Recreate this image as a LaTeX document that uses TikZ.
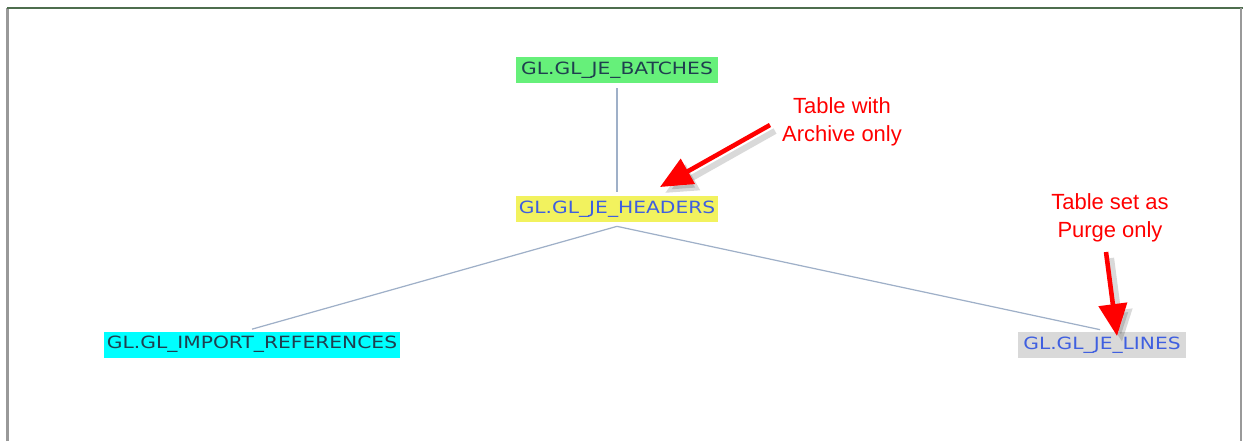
\documentclass[tikz,border=0pt]{standalone}
\usepackage{fontspec}
\setmainfont{DejaVu Sans}
\newfontfamily\tablefont[FakeStretch=1.2]{DejaVu Sans}
\newfontfamily\notefont{Liberation Sans}
\usetikzlibrary{arrows.meta}

\definecolor{batchgreen}{HTML}{66F07A}
\definecolor{headyellow}{HTML}{F2F25E}
\definecolor{refcyan}{HTML}{00FFFF}
\definecolor{linegray}{HTML}{D9D9D9}
\definecolor{tabdark}{HTML}{1F3F4F}
\definecolor{tabblue}{HTML}{3F5FE0}
\definecolor{linkblue}{HTML}{9FB0C8}
\definecolor{framegreen}{HTML}{4E6E4E}

\tikzset{
  tablebox/.style={inner sep=0pt, minimum height=0.52cm, font=\tablefont\fontsize{9.6}{11}\selectfont},
  link/.style={draw=linkblue, line width=0.7pt},
  note/.style={text=red, align=center, font=\notefont\fontsize{12.5}{16}\selectfont},
  notearrow/.style={red, line width=2.6pt, -{Triangle[length=0.64cm, width=0.56cm]},
    preaction={draw=black, opacity=0.15, line width=3.5pt, transform canvas={shift={(0.1cm,-0.12cm)}}}}
}

\begin{document}
\begin{tikzpicture}[x=0.02cm, y=-0.02cm]
  \useasboundingbox (0,0) rectangle (1243,441);
  % frame
  \draw[gray!80, line width=1.4pt] (7.5,441) -- (7.5,8);
  \draw[framegreen, line width=1.6pt] (7,8) -- (1243,8);
  \draw[gray!80, line width=1.4pt] (1241,8) -- (1241,441);

  % tables
  \node[tablebox, fill=batchgreen, text=tabdark, minimum width=4.06cm] (batches) at (617,70) {GL.GL\_JE\_BATCHES};
  \node[tablebox, fill=headyellow, text=tabblue, minimum width=4.06cm] (headers) at (617,209) {GL.GL\_JE\_HEADERS};
  \node[tablebox, fill=refcyan, text=tabdark, minimum width=5.92cm] (importrefs) at (252,344.5) {GL.GL\_IMPORT\_REFERENCES};
  \node[tablebox, fill=linegray, text=tabblue, minimum width=3.36cm] (jelines) at (1102,345) {GL.GL\_JE\_LINES};

  % links
  \draw[link] ([yshift=-0.1cm]batches.south) -- ([yshift=0.08cm]headers.north);
  \draw[link] ([yshift=-0.08cm]headers.south) -- ([yshift=0.04cm]importrefs.north);
  \draw[link] ([yshift=-0.08cm]headers.south) -- ([xshift=-0.04cm,yshift=0.04cm]jelines.north);

  % notes
  \node[note] (archivenote) at (842,122) {Table with\\Archive only};
  \node[note] (purgenote) at (1110,218) {Table set as\\Purge only};
  \coordinate (archivetip) at (660,187);
  \coordinate (purgetip) at (1117,336);
  \draw[notearrow] (770,125) -- (archivetip);
  \draw[notearrow] (1106,252) -- (purgetip);
\end{tikzpicture}
\end{document}
